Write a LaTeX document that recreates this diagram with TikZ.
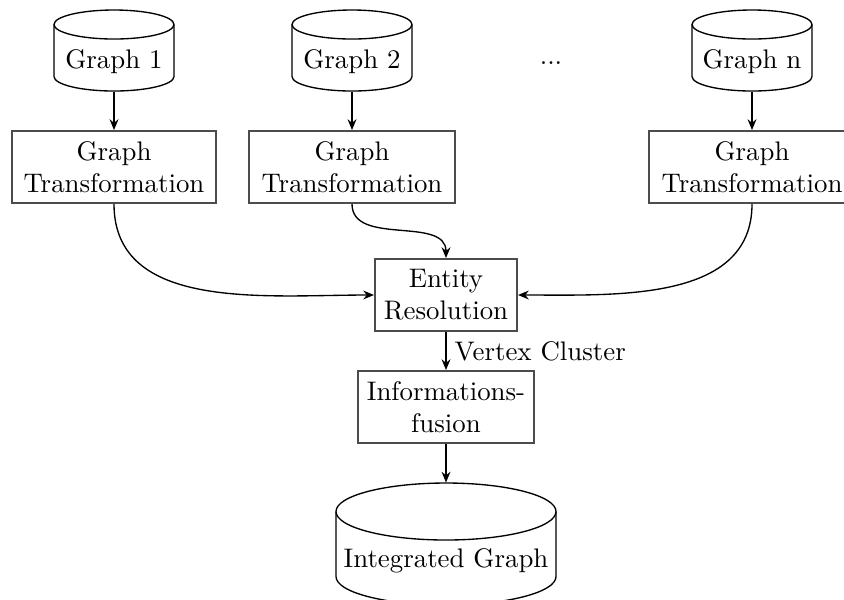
\documentclass[tikz,border=0pt]{standalone}
\usetikzlibrary{arrows.meta,calc}
\tikzset{
  arr/.style={-{Stealth[length=4pt,width=3.3pt,inset=1.3pt]}, line width=0.5pt, black},
  procbox/.style={draw=black!70, line width=0.75pt, align=center, minimum height=26.8pt, inner sep=2pt},
  dbsmall/.style={minimum width=44.7pt, minimum height=30.2pt, text height=15.35pt, text depth=1.94pt, inner sep=0pt},
  dbbig/.style={minimum width=81.9pt, minimum height=45.4pt, text height=19.1pt, text depth=1.94pt, inner sep=0pt},
  cylline/.style={line width=0.5pt, black},
}
% #1 centre x, #2 top y, #3 bottom y, #4 x radius, #5 y radius (all in px units)
\newcommand\drawcyl[5]{%
  \draw[cylline] (#1,#2+#5) ellipse[x radius=#4, y radius=#5];
  \draw[cylline] (#1-#4,#2+#5) -- (#1-#4,#3-#5)
     arc[start angle=180, end angle=0, x radius=#4, y radius=#5] -- (#1+#4,#2+#5);
}
\begin{document}
\begin{tikzpicture}[x=0.37244pt,y=-0.37244pt]
\useasboundingbox (0,0) rectangle (844,599);
% source graphs
\node[dbsmall] (g1) at (114,50.5) {Graph 1};
\node[dbsmall] (g2) at (352,50.5) {Graph 2};
\node[dbsmall] (gn) at (752,50.5) {Graph n};
\node[anchor=base, inner sep=0pt] (dots) at (551,64.5) {...};
\drawcyl{114}{10}{91}{60}{14.5}
\drawcyl{352}{10}{91}{60}{14.5}
\drawcyl{752}{10}{91}{60}{14.5}
% transformations
\node[procbox, minimum width=76.3pt] (t1) at (114,167) {Graph\\Transformation};
\node[procbox, minimum width=76.5pt] (t2) at (352,167) {Graph\\Transformation};
\node[procbox, minimum width=76.5pt] (tn) at (752,167) {Graph\\Transformation};
% entity resolution
\node[procbox, minimum width=52.9pt] (er) at (446,295) {Entity\\Resolution};
\node[procbox, minimum width=65.2pt] (if) at (446,407) {Informations-\\fusion};
% integrated graph
\node[dbbig] (ig) at (446,544) {Integrated Graph};
\drawcyl{446}{483}{605}{110}{28.5}
% connectors
\draw[arr] (g1.south) -- (t1.north);
\draw[arr] (g2.south) -- (t2.north);
\draw[arr] (gn.south) -- (tn.north);
\draw[arr] (t1.south) to[out=-90,in=180] (er.west);
\draw[arr] (t2.south) to[out=-90,in=90] (er.north);
\draw[arr] (tn.south) to[out=-90,in=0] (er.east);
\draw[arr] (er.south) -- node[right, inner sep=3pt] (vc) {Vertex Cluster} (if.north);
\draw[arr] (if.south) -- (ig.north);
\end{tikzpicture}
\end{document}
